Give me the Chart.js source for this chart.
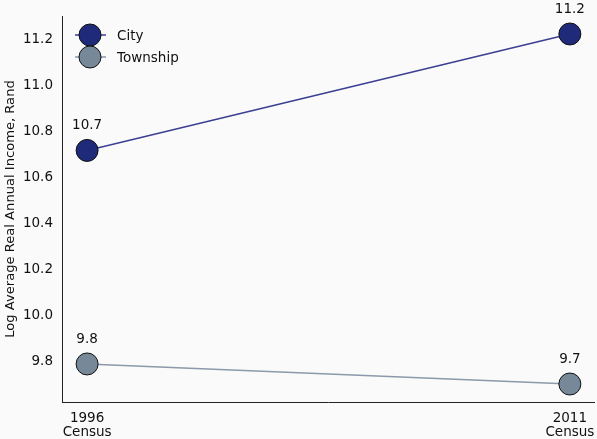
<!DOCTYPE html>
<html>
<head>
<meta charset="utf-8">
<script src="https://cdn.jsdelivr.net/npm/chart.js@4"></script>
<style>
html,body{margin:0;padding:0;background:#fafafa;}
#wrap{width:597px;height:439px;position:relative;}
</style>
</head>
<body>
<div id="wrap"><canvas id="c" width="597" height="439"></canvas></div>
<script>
const categories = [["1996", "Census"], ["2011", "Census"]];
const cityValues = [10.717, 11.222];
const townshipValues = [9.791, 9.704];
const cityLabels = ["10.7", "11.2"];
const townshipLabels = ["9.8", "9.7"];
const yTicks = [9.8, 10.0, 10.2, 10.4, 10.6, 10.8, 11.0, 11.2];

const FONT = "'DejaVu Sans', sans-serif";
const FS = 13.5;
const cityColor = "#1f2a7a";
const cityLine = "#3b3f91";
const townColor = "#778899";
const townLine = "#8b99aa";

const labelPlugin = {
  id: 'labels',
  afterDatasetsDraw(chart) {
    const ctx = chart.ctx;
    ctx.save();
    ctx.font = FS + "px " + FONT;
    ctx.fillStyle = "#111";
    ctx.textAlign = "center";
    ctx.textBaseline = "alphabetic";
    const sets = [cityLabels, townshipLabels];
    chart.data.datasets.forEach((ds, i) => {
      const meta = chart.getDatasetMeta(i);
      meta.data.forEach((pt, j) => {
        ctx.fillText(sets[i][j], pt.x, pt.y - 21);
      });
    });
    ctx.restore();
  },
  afterDraw(chart) {
    const ctx = chart.ctx;
    ctx.save();
    // x category labels
    const xs = chart.scales.x;
    ctx.font = FS + "px " + FONT;
    ctx.fillStyle = "#111";
    ctx.textAlign = "center";
    ctx.textBaseline = "alphabetic";
    categories.forEach((lines, i) => {
      const px = xs.getPixelForValue(i);
      lines.forEach((t, k) => ctx.fillText(t, px, xs.top + 20 + k * 14));
    });
    // legend
    const items = [
      {name: "City", fill: cityColor, line: cityLine, y: 35},
      {name: "Township", fill: townColor, line: townLine, y: 57}
    ];
    items.forEach(it => {
      ctx.strokeStyle = it.line;
      ctx.lineWidth = 1.5;
      ctx.beginPath();
      ctx.moveTo(75, it.y);
      ctx.lineTo(106, it.y);
      ctx.stroke();
      ctx.beginPath();
      ctx.arc(90, it.y, 11, 0, Math.PI * 2);
      ctx.fillStyle = it.fill;
      ctx.fill();
      ctx.lineWidth = 1;
      ctx.strokeStyle = "#111";
      ctx.stroke();
      ctx.fillStyle = "#111";
      ctx.font = FS + "px " + FONT;
      ctx.textAlign = "left";
      ctx.textBaseline = "middle";
      ctx.fillText(it.name, 117, it.y + 1);
    });
    ctx.restore();
  }
};

const bgPlugin = {
  id: 'bg',
  beforeDraw(chart) {
    const ctx = chart.ctx;
    ctx.save();
    ctx.fillStyle = "#fafafa";
    ctx.fillRect(0, 0, chart.width, chart.height);
    ctx.restore();
  }
};

new Chart(document.getElementById('c'), {
  type: 'line',
  data: {
    datasets: [
      {
        label: 'City',
        data: cityValues.map((v, i) => ({x: i, y: v})),
        borderColor: cityLine,
        borderWidth: 1.5,
        pointBackgroundColor: cityColor,
        pointBorderColor: "#111",
        pointBorderWidth: 1,
        pointRadius: 11,
        pointHoverRadius: 11,
        clip: false
      },
      {
        label: 'Township',
        data: townshipValues.map((v, i) => ({x: i, y: v})),
        borderColor: townLine,
        borderWidth: 1.5,
        pointBackgroundColor: townColor,
        pointBorderColor: "#111",
        pointBorderWidth: 1,
        pointRadius: 11,
        pointHoverRadius: 11,
        clip: false
      }
    ]
  },
  options: {
    responsive: false,
    animation: false,
    events: [],
    layout: {autoPadding: false, padding: {top: 16, right: 3, left: 0, bottom: 0}},
    plugins: {legend: {display: false}, tooltip: {enabled: false}},
    scales: {
      x: {
        type: 'linear',
        min: -0.052,
        max: 1.05,
        afterBuildTicks(axis) { axis.ticks = [{value: 0}, {value: 1}]; },
        afterFit(axis) { axis.height = 37; },
        grid: {display: false, drawOnChartArea: false, drawTicks: true, tickLength: 5, tickColor: "#222"},
        border: {display: true, color: "#222", width: 1},
        ticks: {display: false}
      },
      y: {
        min: 9.626,
        max: 11.3,
        afterBuildTicks(axis) { axis.ticks = yTicks.map(v => ({value: v})); },
        afterFit(axis) { axis.width = 62; },
        grid: {display: false, drawOnChartArea: false, drawTicks: true, tickLength: 5, tickColor: "#222"},
        border: {display: true, color: "#222", width: 1},
        title: {display: true, text: "Log Average Real Annual Income, Rand", color: "#111", font: {family: FONT, size: 13.1}, padding: {top: 3, bottom: 2}},
        ticks: {
          color: "#111",
          font: {family: FONT, size: FS},
          padding: 4,
          callback: (v) => v.toFixed(1)
        }
      }
    }
  },
  plugins: [bgPlugin, labelPlugin]
});
</script>
</body>
</html>
